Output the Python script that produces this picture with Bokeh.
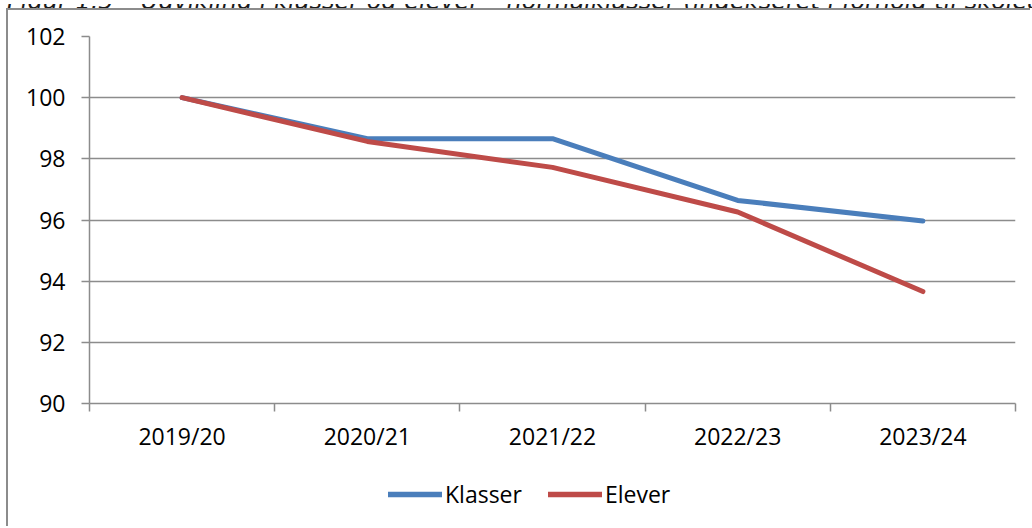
from bokeh.plotting import figure
from bokeh.models import Range1d, FixedTicker, Legend, LegendItem, Div
from bokeh.layouts import column
from bokeh.embed import file_html
from bokeh.resources import INLINE

title = "Figur 1.5 – Udvikling i klasser og elever – normalklasser (indekseret i forhold til skoleåret 2019/20)"
years = ["2019/20", "2020/21", "2021/22", "2022/23", "2023/24"]
klasser = [100, 98.66, 98.66, 96.64, 95.97]
elever = [100, 98.57, 97.72, 96.26, 93.66]
series_names = ["Klasser", "Elever"]
y_ticks = [90, 92, 94, 96, 98, 100, 102]

FONT = "Open Sans"
GRID = "#8c8c8c"
BLUE = "#4a7ebb"
RED = "#be4b48"

xs = [i + 0.5 for i in range(len(years))]
bounds = list(range(len(years) + 1))

head = Div(text=('<div style="height:8px; overflow:hidden; width:1032px">'
                 '<div style="position:relative; top:-17px; padding-left:7px; font-style:italic; '
                 'font-family:\'DejaVu Sans\'; font-size:24px; line-height:normal; white-space:nowrap; color:#1a1a1a">'
                 + title + '</div></div>'),
           width=1032, height=8, margin=0, styles={"overflow": "hidden", "height": "8px"})

p = figure(width=1024, height=450, output_backend="svg", toolbar_location=None,
           x_range=Range1d(0, len(years)), y_range=Range1d(y_ticks[0], y_ticks[-1]),
           min_border_left=81, min_border_right=17, min_border_top=26, min_border_bottom=57)
p.styles = {"margin-left": "6px", "border-left": "2px solid #8c8c8c", "border-top": "2px solid #8c8c8c"}
p.outline_line_color = None
p.background_fill_color = "white"

# Y axis
p.yaxis.ticker = FixedTicker(ticks=y_ticks)
p.yaxis.axis_line_color = GRID
p.yaxis.axis_line_width = 1.5
p.yaxis.major_tick_line_color = GRID
p.yaxis.major_tick_line_width = 1.5
p.yaxis.major_tick_out = 8
p.yaxis.major_tick_in = 0
p.yaxis.minor_tick_line_color = None
p.yaxis.major_label_standoff = 16
p.yaxis.major_label_text_font = FONT
p.yaxis.major_label_text_font_size = "23px"
p.yaxis.major_label_text_color = "black"

# X axis
p.xaxis.ticker = FixedTicker(ticks=xs, minor_ticks=bounds)
p.xaxis.major_label_overrides = {x: y for x, y in zip(xs, years)}
p.xaxis.major_tick_line_color = None
p.xaxis.minor_tick_line_color = GRID
p.xaxis.minor_tick_line_width = 1.5
p.xaxis.minor_tick_out = 8
p.xaxis.minor_tick_in = 0
p.xaxis.axis_line_color = GRID
p.xaxis.axis_line_width = 1.5
p.xaxis.major_label_standoff = 8
p.xaxis.major_label_text_font = FONT
p.xaxis.major_label_text_font_size = "23px"
p.xaxis.major_label_text_color = "black"

p.xgrid.grid_line_color = None
p.ygrid.ticker = FixedTicker(ticks=y_ticks)
p.ygrid.grid_line_color = GRID
p.ygrid.grid_line_width = 1.5

p.line(xs, klasser, line_color=BLUE, line_width=5, line_cap="round", line_join="round")
p.line(xs, elever, line_color=RED, line_width=5, line_cap="round", line_join="round")

# Legend strip below the chart (its own copies of the series lie outside its ranges,
# so only their legend swatches show)
lf = figure(width=1024, height=68, output_backend="svg", toolbar_location=None,
            x_range=Range1d(-10, -9), y_range=Range1d(0, 1),
            x_axis_type=None, y_axis_type=None,
            min_border_left=0, min_border_right=0, min_border_top=0, min_border_bottom=0)
lf.styles = {"margin-left": "6px", "border-left": "2px solid #8c8c8c"}
lf.outline_line_color = None
lf.xgrid.visible = False
lf.ygrid.visible = False
k_r = lf.line(xs, klasser, line_color=BLUE, line_width=5.5, line_cap="round")
e_r = lf.line(xs, elever, line_color=RED, line_width=5.5, line_cap="round")

legend = Legend(items=[LegendItem(label=series_names[0], renderers=[k_r]),
                       LegendItem(label=series_names[1], renderers=[e_r])],
                orientation="horizontal", location=(299, 16),
                label_text_font=FONT, label_text_font_size="23px",
                label_text_color="black", glyph_width=54, glyph_height=24,
                label_standoff=3, spacing=26, padding=0, margin=0,
                border_line_color=None, background_fill_alpha=0)
lf.add_layout(legend, "center")

layout = column(head, p, lf, spacing=0)
open("out.html", "w").write(file_html(layout, INLINE))
